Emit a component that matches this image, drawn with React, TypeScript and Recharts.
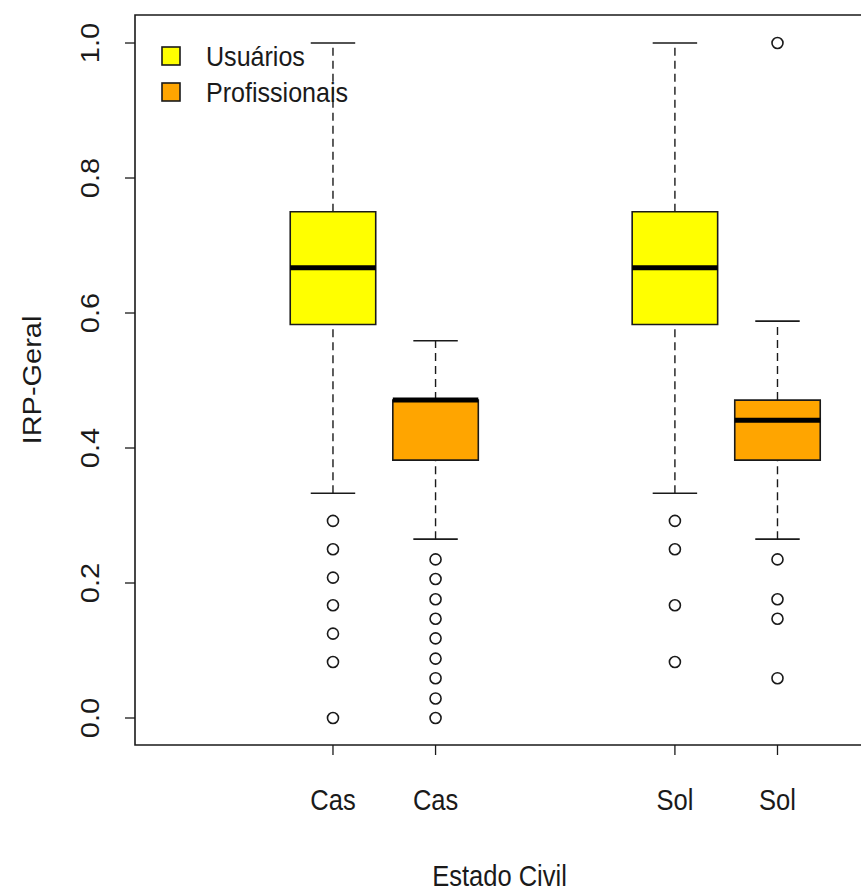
import { ComposedChart, XAxis, YAxis, Scatter, ReferenceArea, ReferenceLine } from 'recharts';

// R-style boxplot: IRP-Geral by Estado Civil, Usuários vs Profissionais
const categories = ['Cas', 'Cas', 'Sol', 'Sol'];
const groups = ['Usuários', 'Profissionais', 'Usuários', 'Profissionais'];
const legendNames = ['Usuários', 'Profissionais'];
const legendColors = ['#FFFF00', '#FFA500'];

const whiskerLow = [0.333, 0.265, 0.333, 0.265];
const q1 = [0.583, 0.382, 0.583, 0.382];
const median = [0.667, 0.471, 0.667, 0.441];
const q3 = [0.75, 0.471, 0.75, 0.471];
const whiskerHigh = [1.0, 0.559, 1.0, 0.588];
const outliers = [
  [0.292, 0.25, 0.208, 0.167, 0.125, 0.083, 0],
  [0.235, 0.206, 0.176, 0.147, 0.118, 0.088, 0.059, 0.029, 0],
  [0.292, 0.25, 0.167, 0.083],
  [1.0, 0.235, 0.176, 0.147, 0.059],
];
const yTicks = [0, 0.2, 0.4, 0.6, 0.8, 1.0];

// layout
const BOX_AT = [0.85, 1.15, 1.85, 2.15];
const X_DOMAIN: [number, number] = [0.271, 2.403];
const Y_DOMAIN: [number, number] = [-0.04, 1.0415];
const HALF_BOX = 0.125;
const HALF_CAP = 0.065;
const FONT = '"Liberation Sans", Arial, sans-serif';
const SX = 0.88;
const INK = '#1a1a1a';

const boxColor = (i: number) => legendColors[legendNames.indexOf(groups[i])];

const YTick = (props: any) => {
  const { x, y, payload } = props;
  return (
    <g transform={`translate(${x - 24},${y}) scale(${SX},1) rotate(-90)`}>
      <text textAnchor="middle" fontSize={29} fontFamily={FONT} fill={INK}>
        {Number(payload.value).toFixed(1)}
      </text>
    </g>
  );
};

const XTick = (props: any) => {
  const { x, y, payload } = props;
  const i = BOX_AT.indexOf(payload.value);
  return (
    <g transform={`translate(${x},${y + 53}) scale(${SX},1)`}>
      <text textAnchor="middle" fontSize={29} fontFamily={FONT} fill={INK}>
        {categories[i]}
      </text>
    </g>
  );
};

const outlierDot = (props: any) => (
  <circle cx={props.cx} cy={props.cy} r={5.5} fill="none" stroke={INK} strokeWidth={1.6} />
);

const App = () => {
  return (
    <div style={{ position: 'absolute', left: 0, top: 0, width: 861, height: 891, overflow: 'hidden', background: '#fff' }}>
      <ComposedChart width={870} height={891} margin={{ top: 15, right: 6, bottom: 0, left: 0 }}>
        <XAxis
          type="number"
          dataKey="x"
          domain={X_DOMAIN}
          ticks={BOX_AT}
          allowDataOverflow
          axisLine={false}
          tickSize={10}
          tickLine={{ stroke: INK, strokeWidth: 1.3 }}
          tick={<XTick />}
          height={146}
          label={{
            content: (p: any) => {
              const vb = p.viewBox || { x: 135, width: 729 };
              return (
                <g transform={`translate(${vb.x + vb.width / 2},886) scale(${SX},1)`}>
                  <text textAnchor="middle" fontSize={29} fontFamily={FONT} fill={INK}>Estado Civil</text>
                </g>
              );
            },
          }}
        />
        <YAxis
          type="number"
          dataKey="y"
          domain={Y_DOMAIN}
          ticks={yTicks}
          allowDataOverflow
          axisLine={false}
          width={135}
          tickSize={10}
          tickLine={{ stroke: INK, strokeWidth: 1.3 }}
          tick={<YTick />}
          label={{
            content: (p: any) => {
              const vb = p.viewBox || { y: 15, height: 730 };
              return (
                <g transform={`translate(41,${vb.y + vb.height / 2}) scale(${SX},1) rotate(-90)`}>
                  <text textAnchor="middle" fontSize={29} fontFamily={FONT} fill={INK}>IRP-Geral</text>
                </g>
              );
            },
          }}
        />

        <ReferenceArea
          x1={X_DOMAIN[0]}
          x2={X_DOMAIN[1]}
          y1={Y_DOMAIN[0]}
          y2={Y_DOMAIN[1]}
          fill="none"
          stroke={INK}
          strokeWidth={1.6}
          ifOverflow="visible"
        />

        {BOX_AT.map((at, i) => (
          <ReferenceLine
            key={`wu${i}`}
            segment={[{ x: at, y: q3[i] }, { x: at, y: whiskerHigh[i] }]}
            stroke={INK}
            strokeWidth={1.4}
            strokeDasharray="8 5"
            ifOverflow="visible"
          />
        ))}
        {BOX_AT.map((at, i) => (
          <ReferenceLine
            key={`wl${i}`}
            segment={[{ x: at, y: whiskerLow[i] }, { x: at, y: q1[i] }]}
            stroke={INK}
            strokeWidth={1.4}
            strokeDasharray="8 5"
            ifOverflow="visible"
          />
        ))}
        {BOX_AT.map((at, i) => (
          <ReferenceLine
            key={`cu${i}`}
            segment={[{ x: at - HALF_CAP, y: whiskerHigh[i] }, { x: at + HALF_CAP, y: whiskerHigh[i] }]}
            stroke={INK}
            strokeWidth={1.6}
            ifOverflow="visible"
          />
        ))}
        {BOX_AT.map((at, i) => (
          <ReferenceLine
            key={`cl${i}`}
            segment={[{ x: at - HALF_CAP, y: whiskerLow[i] }, { x: at + HALF_CAP, y: whiskerLow[i] }]}
            stroke={INK}
            strokeWidth={1.6}
            ifOverflow="visible"
          />
        ))}
        {BOX_AT.map((at, i) => (
          <ReferenceArea
            key={`b${i}`}
            x1={at - HALF_BOX}
            x2={at + HALF_BOX}
            y1={q1[i]}
            y2={q3[i]}
            fill={boxColor(i)}
            fillOpacity={1}
            stroke={INK}
            strokeWidth={1.6}
            ifOverflow="visible"
          />
        ))}
        {BOX_AT.map((at, i) => (
          <ReferenceLine
            key={`m${i}`}
            segment={[{ x: at - HALF_BOX, y: median[i] }, { x: at + HALF_BOX, y: median[i] }]}
            stroke="#000"
            strokeWidth={5}
            ifOverflow="visible"
          />
        ))}

        {BOX_AT.map((at, i) => (
          <Scatter
            key={`o${i}`}
            name={`${groups[i]} ${categories[i]}`}
            data={outliers[i].map((v) => ({ x: at, y: v }))}
            shape={outlierDot}
            isAnimationActive={false}
          />
        ))}
      </ComposedChart>

      <svg width={420} height={130} style={{ position: 'absolute', left: 0, top: 0 }}>
        {legendNames.map((name, k) => (
          <g key={name}>
            <rect x={162} y={47 + k * 36} width={18} height={18} fill={legendColors[k]} stroke={INK} strokeWidth={1.6} />
            <g transform={`translate(206,${66 + k * 36}) scale(${SX},1)`}>
              <text fontSize={28.5} fontFamily={FONT} fill={INK}>{name}</text>
            </g>
          </g>
        ))}
      </svg>
    </div>
  );
};

export default App;
